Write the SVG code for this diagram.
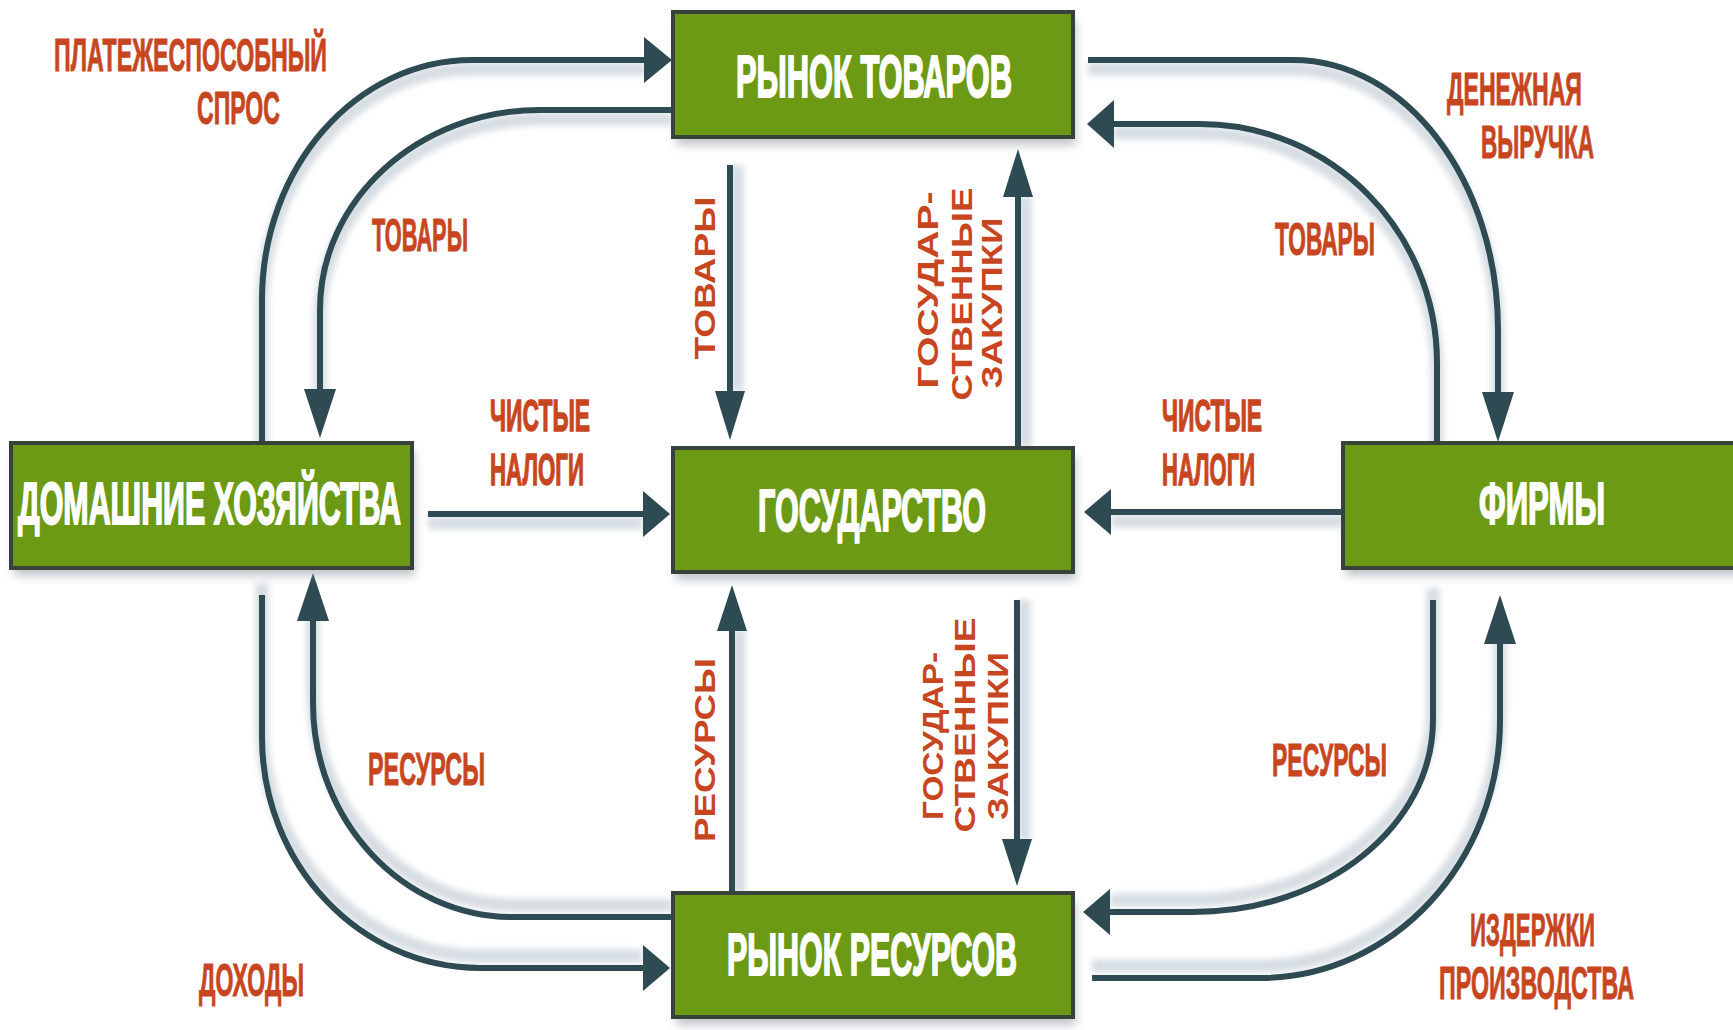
<svg xmlns="http://www.w3.org/2000/svg" width="1733" height="1030" viewBox="0 0 1733 1030">
<defs>
<filter id="blur" filterUnits="userSpaceOnUse" x="0" y="0" width="1733" height="1030"><feGaussianBlur stdDeviation="3"/></filter>
<filter id="bblur" filterUnits="userSpaceOnUse" x="0" y="0" width="1733" height="1030"><feGaussianBlur stdDeviation="5"/></filter>
<style>
.box{fill:#6d9a14;stroke:#36423a;stroke-width:4}
.bsh{fill:#8d979e;opacity:.55;filter:url(#bblur)}
.bt{font-family:"Liberation Sans",Arial,sans-serif;font-weight:bold;font-size:60px;fill:#fff;stroke:#fff;stroke-width:2}
.lb{font-family:"Liberation Sans",Arial,sans-serif;font-weight:bold;font-size:47px;fill:#c8461f;stroke:#c8461f;stroke-width:1}
.lbs{font-size:44px;stroke-width:1.4}
.rl{font-family:"Liberation Sans",Arial,sans-serif;font-weight:bold;font-size:30px;fill:#c8461f}
.ln{fill:none;stroke:#2e4a52;stroke-width:6}
.sh{fill:none;stroke:#d6dde2;stroke-width:13;filter:url(#blur)}
.hd{fill:#2e4a52}
</style>
</defs>
<rect width="1733" height="1030" fill="#fff"/>

<g id="connectors">
  <g transform="translate(0,9)">
    <path class="sh" d="M262,443 V300 C262,167.5 356,60 472,60 H645"/>
    <path class="sh" d="M672,110 H540 C418.6,110 320,199.6 320,310 V390"/>
    <path class="sh" d="M1088,60 H1293 C1406,60 1498,181 1498,330 V393"/>
    <path class="sh" d="M1437,443 V363 C1437,231 1331,124 1200,124 H1113"/>
    <path class="sh" d="M428,514 H643"/>
    <path class="sh" d="M1343,512 H1111"/>
  </g>
  <g transform="translate(7,0)">
    <path class="sh" d="M730,165 V392"/>
    <path class="sh" d="M1018,448 V196"/>
    <path class="sh" d="M732,893 V630"/>
    <path class="sh" d="M1017,600 V840"/>
  </g>
  <g transform="translate(0,-12)">
    <path class="sh" d="M262,595 V737 C262,864.5 359.7,968 480,968 H643"/>
    <path class="sh" d="M672,917 H513 C402.6,917 313,821 313,703 V620"/>
    <path class="sh" d="M1433,600 V720 C1433,826 1325.5,912 1193,912 H1110"/>
    <path class="sh" d="M1092,978 H1260 C1392.5,978 1500,862.4 1500,720 V643"/>
  </g>

  <g id="c-platezh"><path class="ln" d="M262,443 V300 C262,167.5 356,60 472,60 H646"/><polygon class="hd" points="644,37 672,60 644,83"/></g>
  <g id="c-tovary-hh"><path class="ln" d="M672,110 H540 C418.6,110 320,199.6 320,310 V391"/><polygon class="hd" points="304,389 320,438 336,389"/></g>
  <g id="c-vyruchka"><path class="ln" d="M1088,60 H1293 C1406,60 1498,181 1498,330 V394"/><polygon class="hd" points="1482,392 1498,442 1514,392"/></g>
  <g id="c-tovary-firms"><path class="ln" d="M1437,443 V363 C1437,231 1331,124 1200,124 H1112"/><polygon class="hd" points="1114,100 1087,124 1114,148"/></g>
  <g id="c-nalogi-hh"><path class="ln" d="M428,514 H644"/><polygon class="hd" points="643,491 670,514 643,537"/></g>
  <g id="c-nalogi-firms"><path class="ln" d="M1343,512 H1110"/><polygon class="hd" points="1111,489 1084,512 1111,535"/></g>
  <g id="c-tovary-gov"><path class="ln" d="M730,165 V393"/><polygon class="hd" points="715,391 730,440 745,391"/></g>
  <g id="c-zakupki-goods"><path class="ln" d="M1018,448 V195"/><polygon class="hd" points="1003,197 1018,149 1033,197"/></g>
  <g id="c-resursy-gov"><path class="ln" d="M732,893 V629"/><polygon class="hd" points="717,631 732,585 747,631"/></g>
  <g id="c-zakupki-res"><path class="ln" d="M1017,600 V841"/><polygon class="hd" points="1002,839 1017,886 1032,839"/></g>
  <g id="c-dohody"><path class="ln" d="M262,595 V737 C262,864.5 359.7,968 480,968 H644"/><polygon class="hd" points="643,945 670,968 643,991"/></g>
  <g id="c-resursy-hh"><path class="ln" d="M672,917 H513 C402.6,917 313,821 313,703 V619"/><polygon class="hd" points="297,621 313,573 329,621"/></g>
  <g id="c-resursy-res"><path class="ln" d="M1433,600 V720 C1433,826 1325.5,912 1193,912 H1109"/><polygon class="hd" points="1110,889 1083,912 1110,935"/></g>
  <g id="c-izderzhki"><path class="ln" d="M1092,978 H1260 C1392.5,978 1500,862.4 1500,720 V642"/><polygon class="hd" points="1484,644 1500,595 1516,644"/></g>
</g>

<g id="node-goods">
  <rect class="bsh" x="676" y="20" width="400" height="125"/>
  <rect class="box" x="673" y="12" width="400" height="125"/>
  <text class="bt" x="736" y="97" textLength="276" lengthAdjust="spacingAndGlyphs">РЫНОК ТОВАРОВ</text>
</g>
<g id="node-gov">
  <rect class="bsh" x="676" y="456" width="400" height="124"/>
  <rect class="box" x="673" y="448" width="400" height="124"/>
  <text class="bt" x="758" y="531" textLength="228" lengthAdjust="spacingAndGlyphs">ГОСУДАРСТВО</text>
</g>
<g id="node-resources">
  <rect class="bsh" x="676" y="901" width="400" height="124"/>
  <rect class="box" x="673" y="893" width="400" height="124"/>
  <text class="bt" x="727" y="975" textLength="290" lengthAdjust="spacingAndGlyphs">РЫНОК РЕСУРСОВ</text>
</g>
<g id="node-households">
  <rect class="bsh" x="14" y="451" width="401" height="125"/>
  <rect class="box" x="11" y="443" width="401" height="125"/>
  <text class="bt" x="18" y="524" font-size="57" textLength="383" lengthAdjust="spacingAndGlyphs">ДОМАШНИЕ ХОЗЯЙСТВА</text>
</g>
<g id="node-firms">
  <rect class="bsh" x="1346" y="451" width="400" height="125"/>
  <rect class="box" x="1343" y="443" width="400" height="125"/>
  <text class="bt" x="1479" y="524" font-size="57" textLength="126" lengthAdjust="spacingAndGlyphs">ФИРМЫ</text>
</g>

<g id="labels">
  <text class="lb" x="54" y="71" textLength="273" lengthAdjust="spacingAndGlyphs">ПЛАТЕЖЕСПОСОБНЫЙ</text>
  <text class="lb" x="197" y="124" textLength="83" lengthAdjust="spacingAndGlyphs">СПРОС</text>
  <text class="lb" x="372" y="251" textLength="96" lengthAdjust="spacingAndGlyphs">ТОВАРЫ</text>
  <text class="lb lbs" x="490" y="431" textLength="100" lengthAdjust="spacingAndGlyphs">ЧИСТЫЕ</text>
  <text class="lb lbs" x="490" y="485" textLength="94" lengthAdjust="spacingAndGlyphs">НАЛОГИ</text>
  <text class="lb" x="1447" y="105" textLength="135" lengthAdjust="spacingAndGlyphs">ДЕНЕЖНАЯ</text>
  <text class="lb" x="1481" y="158" textLength="113" lengthAdjust="spacingAndGlyphs">ВЫРУЧКА</text>
  <text class="lb" x="1275" y="255" textLength="100" lengthAdjust="spacingAndGlyphs">ТОВАРЫ</text>
  <text class="lb lbs" x="1162" y="431" textLength="100" lengthAdjust="spacingAndGlyphs">ЧИСТЫЕ</text>
  <text class="lb lbs" x="1162" y="485" textLength="93" lengthAdjust="spacingAndGlyphs">НАЛОГИ</text>
  <text class="lb" x="368" y="785" textLength="117" lengthAdjust="spacingAndGlyphs">РЕСУРСЫ</text>
  <text class="lb" x="199" y="996" textLength="105" lengthAdjust="spacingAndGlyphs">ДОХОДЫ</text>
  <text class="lb" x="1272" y="776" textLength="115" lengthAdjust="spacingAndGlyphs">РЕСУРСЫ</text>
  <text class="lb" x="1470" y="946" textLength="125" lengthAdjust="spacingAndGlyphs">ИЗДЕРЖКИ</text>
  <text class="lb" x="1439" y="999" textLength="195" lengthAdjust="spacingAndGlyphs">ПРОИЗВОДСТВА</text>

  <text class="rl" transform="translate(715,278) rotate(-90)" text-anchor="middle" textLength="163" lengthAdjust="spacingAndGlyphs">ТОВАРЫ</text>
  <text class="rl" transform="translate(938,290) rotate(-90)" text-anchor="middle" textLength="197" lengthAdjust="spacingAndGlyphs">ГОСУДАР-</text>
  <text class="rl" transform="translate(972,294) rotate(-90)" text-anchor="middle" textLength="213" lengthAdjust="spacingAndGlyphs">СТВЕННЫЕ</text>
  <text class="rl" transform="translate(1002,303) rotate(-90)" text-anchor="middle" textLength="171" lengthAdjust="spacingAndGlyphs">ЗАКУПКИ</text>
  <text class="rl" transform="translate(715,750) rotate(-90)" text-anchor="middle" textLength="184" lengthAdjust="spacingAndGlyphs">РЕСУРСЫ</text>
  <text class="rl" transform="translate(943,736) rotate(-90)" text-anchor="middle" textLength="168" lengthAdjust="spacingAndGlyphs">ГОСУДАР-</text>
  <text class="rl" transform="translate(975,725) rotate(-90)" text-anchor="middle" textLength="215" lengthAdjust="spacingAndGlyphs">СТВЕННЫЕ</text>
  <text class="rl" transform="translate(1008,736) rotate(-90)" text-anchor="middle" textLength="168" lengthAdjust="spacingAndGlyphs">ЗАКУПКИ</text>
</g>
</svg>
